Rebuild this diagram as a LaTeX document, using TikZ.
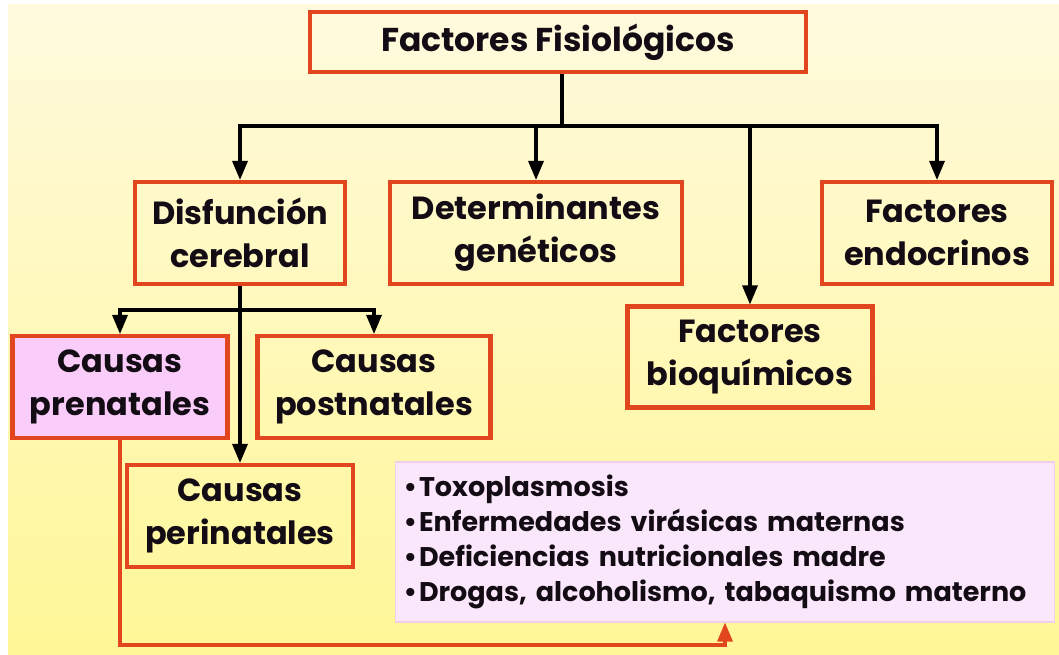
\documentclass[tikz,border=0pt]{standalone}
\usepackage{fontspec}
\setmainfont{Poppins}
\usetikzlibrary{shapes,arrows}

\definecolor{rojo}{RGB}{226,70,30}
\definecolor{rosa}{RGB}{249,204,249}
\definecolor{rosaclaro}{RGB}{251,231,251}
\definecolor{rosaborde}{RGB}{240,206,236}
\definecolor{fondoarriba}{RGB}{255,250,222}
\definecolor{fondoabajo}{RGB}{255,247,150}
\definecolor{texto}{RGB}{20,12,20}

\begin{document}
\begin{tikzpicture}[x=1pt, y=-1pt, >=triangle 45,
  caja/.style={draw=rojo, line width=4.5pt, inner sep=0pt, align=center, text=texto,
    font=\fontsize{32}{43}\selectfont\bfseries},
  flecha/.style={draw=black, line width=3.5pt},
  linearoja/.style={draw=rojo, line width=3.5pt}]

% fondo
\useasboundingbox (0,0) rectangle (1059,655);
\fill[white] (0,0) rectangle (1059,655);
\shade[top color=fondoarriba, bottom color=fondoabajo] (8,5) rectangle (1059,655);

% cajas
\node[caja, minimum width=496, minimum height=60, font=\fontsize{33}{43}\selectfont\bfseries] (FF) at (558,42) {Factores Fisiológicos};

\node[caja, minimum width=210, minimum height=102] (DC) at (240,233) {Disfunción\\cerebral};
\node[caja, minimum width=292, minimum height=102] (DG) at (536,233) {Determinantes\\genéticos};
\node[caja, minimum width=230, minimum height=102] (FE) at (937,233) {Factores\\endocrinos};
\node[caja, minimum width=245, minimum height=101] (FB) at (750,357) {Factores\\bioquímicos};

\node[caja, fill=rosa, minimum width=215, minimum height=102] (CPr) at (120,387) {Causas\\prenatales};
\node[caja, minimum width=233, minimum height=102] (CPo) at (374,387) {Causas\\postnatales};
\node[caja, minimum width=226, minimum height=102] (CPe) at (240,516) {Causas\\perinatales};

\node[draw=rosaborde, fill=rosaclaro, line width=1.5pt, text width=643, inner xsep=8,
  minimum height=160, align=left, text=texto,
  font=\fontsize{27}{35}\selectfont\bfseries] (L) at (725,542)
  {•\hspace{2pt}Toxoplasmosis\\
   •\hspace{2pt}Enfermedades virásicas maternas\\
   •\hspace{2pt}Deficiencias nutricionales madre\\
   •\hspace{2pt}Drogas, alcoholismo, tabaquismo materno};

% puntos de paso
\coordinate (R1) at (562,126);
\coordinate (R2) at (240,310);
\coordinate (R3) at (0,645);

% flechas
\draw[flecha] (FF.south -| R1) -- (R1);
\draw[flecha,->] (R1) -| (DC.north);
\draw[flecha,->] (R1) -| (DG.north);
\draw[flecha,->] (R1) -| (FB.north);
\draw[flecha,->] (R1) -| (FE.north);

\draw[flecha] (DC.south) -- (R2);
\draw[flecha,->] (R2) -| (CPr.north);
\draw[flecha,->] (R2) -| (CPo.north);
\draw[flecha,->] (R2) -- (CPe.north);

\draw[linearoja,->] (CPr.south) -- (CPr.south |- R3) -| (L.south);

\end{tikzpicture}
\end{document}
